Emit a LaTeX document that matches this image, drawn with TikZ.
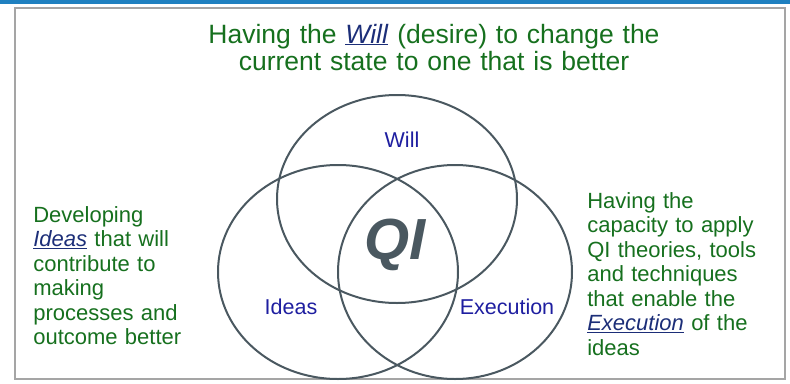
\documentclass[tikz,border=0pt]{standalone}
\usepackage{fontspec}
\setmainfont{Liberation Sans}
\usetikzlibrary{positioning}

\definecolor{qibar}{RGB}{31,128,192}
\definecolor{qiframe}{RGB}{165,165,165}
\definecolor{qiring}{RGB}{74,88,96}
\definecolor{qigreen}{RGB}{22,112,30}
\definecolor{qinavy}{RGB}{28,46,120}
\definecolor{qilabel}{RGB}{30,30,160}

\newcommand{\keyword}[1]{\textcolor{qinavy}{\underline{\textit{#1}}}}

\begin{document}
\begin{tikzpicture}[x=1pt, y=-1pt, semithick,
        ring/.style={draw=qiring, line width=2pt},
        note/.style={text=qigreen, inner sep=0pt, align=left, text width=210pt, font=\fontsize{22}{24.5}\selectfont},
        part/.style={text=qilabel, inner sep=0pt, font=\fontsize{21.5}{24}\selectfont}]
    \useasboundingbox (0,0) rectangle (790,383);
    \fill[qibar] (0,0) rectangle (790,3.5);
    \draw[qiframe, line width=2pt] (15,8) rectangle (785,379);

    \coordinate (will) at (397,199);
    \coordinate (ideas) at (338,272);
    \coordinate (execution) at (455,272);

    \draw[ring] (will) ellipse [x radius=120, y radius=104];
    \draw[ring] (ideas) ellipse [x radius=120, y radius=107];
    \draw[ring] (execution) ellipse [x radius=117, y radius=107];

    \node[part] (willtext) at (402,140) {Will};
    \node[part] (ideastext) at (291,307) {Ideas};
    \node[part] (exectext) at (507,307) {Execution};
    \node[text=qiring, font=\fontsize{58}{58}\selectfont\bfseries\itshape] (qi) at (395,245) {QI};

    \node[note, anchor=base, align=center, text width=560pt, font=\fontsize{26.5}{27}\selectfont] (top) at (434,43)
        {Having the \keyword{Will} (desire) to change the\\ current state to one that is better};
    \node[note, anchor=base west] (left) at (33,222)
        {Developing\\ \keyword{Ideas} that will\\ contribute to\\ making\\ processes and\\ outcome better};
    \node[note, anchor=base west] (right) at (587,208)
        {Having the\\ capacity to apply\\ QI theories, tools\\ and techniques\\ that enable the\\ \keyword{Execution} of the\\ ideas};
\end{tikzpicture}
\end{document}
